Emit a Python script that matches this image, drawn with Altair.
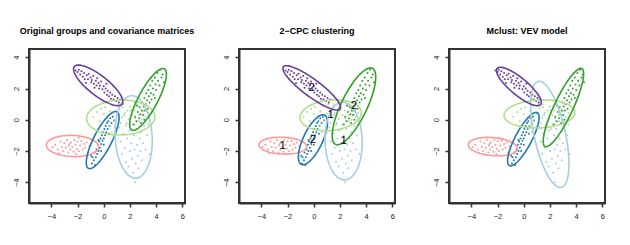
import altair as alt
import pandas as pd
import numpy as np

# ---------------- data ----------------
groups = ["pink", "darkblue", "lightblue", "lightgreen", "darkgreen", "purple"]
colors = ["#FB9A99", "#1F78B4", "#A6CEE3", "#B2DF8A", "#33A02C", "#6A3D9A"]

pink_pts = [(-3.7,-1.6),(-3.5,-1.9),(-3.3,-1.4),(-3.2,-1.75),(-3.1,-2.0),(-3.0,-1.5),(-2.9,-1.8),
            (-2.8,-1.3),(-2.7,-2.1),(-2.65,-1.65),(-2.55,-1.9),(-2.5,-1.45),(-2.4,-1.75),(-2.3,-2.05),
            (-2.25,-1.3),(-2.15,-1.6),(-2.05,-1.85),(-2.0,-1.4),(-1.9,-2.0),(-1.8,-1.65),(-1.7,-1.35),
            (-1.6,-1.9),(-1.5,-1.55),(-1.4,-1.8),(-1.3,-1.45),(-1.2,-2.1),(-1.1,-1.7),(-3.9,-1.75),
            (-2.6,-1.55),(-2.1,-2.2),(-1.9,-1.15),(-3.4,-2.15)]
darkblue_pts = [(-0.9,-2.8),(-0.85,-2.4),(-0.75,-2.6),(-0.7,-2.1),(-0.6,-2.4),(-0.55,-1.9),(-0.5,-2.2),
                (-0.45,-1.6),(-0.4,-2.0),(-0.35,-1.4),(-0.3,-1.8),(-0.25,-1.2),(-0.2,-1.55),(-0.15,-1.0),
                (-0.1,-1.35),(-0.05,-0.8),(0.0,-1.2),(0.05,-0.6),(0.1,-1.0),(0.15,-0.4),(0.2,-0.8),
                (0.25,-0.2),(0.3,-0.6),(0.35,-0.1),(0.45,-0.4),(0.5,0.1),(0.6,-0.2),(0.7,0.2),(0.8,-0.05),
                (-0.65,-2.9),(-0.95,-2.3),(0.0,-1.6),(-0.2,-2.0),(0.4,-0.9),(-0.4,-1.3)]
lightblue_pts = [(1.2,-0.5),(1.3,-1.4),(1.4,-2.2),(1.5,-0.9),(1.55,0.3),(1.6,-1.8),(1.7,-2.7),(1.75,-0.2),
                 (1.8,-1.2),(1.9,-3.0),(1.95,-0.7),(2.0,-2.0),(2.05,0.6),(2.1,-1.5),(2.15,-2.5),(2.2,-0.3),
                 (2.25,-3.4),(2.3,-1.0),(2.35,-1.9),(2.4,0.1),(2.45,-2.8),(2.5,-0.6),(2.55,-1.6),(2.6,-2.3),
                 (2.65,-3.1),(2.7,-0.1),(2.75,-1.2),(2.8,-2.0),(2.85,-0.8),(2.9,-2.6),(3.0,-1.5),(3.05,0.3),
                 (3.1,-0.4),(3.2,-1.9),(3.3,-1.0),(3.4,-0.3),(1.45,0.8),(2.4,-4.0),(2.5,1.0),(3.5,-2.2)]
lightgreen_pts = [(-0.8,0.2),(-0.5,0.5),(-0.3,-0.1),(0.0,0.35),(0.1,0.8),(0.3,0.1),(0.4,-0.4),(0.5,0.55),
                  (0.7,0.9),(0.8,0.0),(0.9,-0.5),(1.0,0.4),(1.2,0.7),(1.3,-0.2),(1.4,0.15),(1.5,1.0),
                  (1.6,0.45),(1.7,-0.35),(1.8,0.6),(1.9,0.05),(2.0,0.85),(2.1,-0.6),(2.2,0.3),(2.35,0.6),
                  (2.5,-0.1),(2.6,0.9),(2.7,0.3),(2.9,0.0),(3.0,0.55),(3.2,0.2),(3.4,0.45),(0.6,-0.8),
                  (1.1,1.0),(2.4,1.1),(-0.2,0.7)]
darkgreen_pts = [(2.3,-0.3),(2.4,0.2),(2.5,-0.1),(2.6,0.5),(2.7,0.1),(2.75,0.8),(2.8,0.35),(2.85,-0.2),
                 (2.9,0.6),(2.95,1.1),(3.0,0.3),(3.05,0.85),(3.1,1.4),(3.15,0.6),(3.2,1.0),(3.25,1.7),
                 (3.3,1.25),(3.35,0.7),(3.4,1.9),(3.45,1.5),(3.5,1.1),(3.55,2.2),(3.6,1.7),(3.65,1.3),
                 (3.7,2.5),(3.75,2.0),(3.8,1.6),(3.9,2.7),(3.95,2.25),(4.0,1.9),(4.1,3.0),(4.15,2.5),
                 (4.25,2.2),(4.3,3.2),(4.4,2.7),(4.5,2.9),(2.55,0.9),(3.1,0.0),(3.9,1.4),(4.6,2.4)]
purple_pts = [(-2.0,3.05),(-1.9,3.2),(-1.8,2.9),(-1.7,3.1),(-1.6,2.75),(-1.5,3.0),(-1.45,2.6),(-1.3,2.85),
              (-1.2,2.6),(-1.15,2.95),(-1.0,2.7),(-0.95,2.4),(-0.9,2.55),(-0.8,2.8),(-0.75,2.3),(-0.6,2.5),
              (-0.55,2.2),(-0.5,2.65),(-0.4,2.35),(-0.35,2.0),(-0.3,2.2),(-0.2,2.45),(-0.1,1.95),(0.0,2.15),
              (0.05,1.75),(0.15,2.0),(0.25,1.6),(0.3,1.85),(0.4,1.5),(0.5,1.75),(0.55,1.35),(0.65,1.6),
              (0.75,1.3),(0.85,1.5),(0.95,1.2),(1.05,1.4),(1.15,1.1),(1.25,1.3),(-1.35,2.35),(-0.7,2.05),
              (0.2,2.3),(-2.15,3.15)]
points_by_group = [pink_pts, darkblue_pts, lightblue_pts, lightgreen_pts, darkgreen_pts, purple_pts]

# ellipse parameters per group: centre x, centre y, half-extent x, half-extent y, correlation
ell_original = [(-2.38,-1.68,1.99,0.68,-0.08), (-0.08,-1.30,1.25,1.83,0.79), (2.28,-1.10,1.42,2.64,-0.10),
                (1.30,0.14,2.60,1.12,0.05), (3.38,1.30,1.40,1.98,0.81), (-0.42,2.20,1.88,1.30,-0.80)]
ell_cpc = [(-2.36,-1.66,1.82,0.54,-0.10), (-0.06,-1.28,1.11,1.60,0.69), (2.28,-1.36,1.42,2.49,-0.05),
           (1.29,0.29,2.34,0.99,0.15), (3.07,0.86,1.66,2.46,0.76), (-0.15,2.04,2.20,1.42,-0.88)]
ell_mclust = [(-2.36,-1.72,1.87,0.59,-0.20), (-0.03,-1.24,1.20,1.71,0.81), (1.99,-0.94,1.46,3.40,-0.55),
              (1.20,0.37,2.70,0.90,0.10), (3.03,0.78,1.54,2.51,0.86), (-0.37,2.13,1.71,1.23,-0.83)]
cpc_labels = ["1", "2", "1", "1", "2", "2"]

titles = ["Original groups and covariance matrices", "2\u2212CPC clustering", "Mclust: VEV model"]

x_ticks = [-4, -2, 0, 2, 4, 6]
y_ticks = [-4, -2, 0, 2, 4]
x_domain = [-5.7, 6.2]
y_domain = [-5.33, 4.53]

W, H = 156, 154

# ---------------- tables ----------------
pts_rows = []
for g, pts in zip(groups, points_by_group):
    for (x, y) in pts:
        pts_rows.append({"group": g, "x": x, "y": y})
points_df = pd.DataFrame(pts_rows)

tt = np.linspace(0, 2 * np.pi, 121)

def ellipse_df(params):
    rows = []
    for g, (cx, cy, sx, sy, r) in zip(groups, params):
        for i, t in enumerate(tt):
            rows.append({"group": g, "i": i,
                         "x": cx + sx * np.cos(t),
                         "y": cy + sy * (r * np.cos(t) + np.sqrt(1 - r * r) * np.sin(t))})
    return pd.DataFrame(rows)

# plot-box outline: the four corners of the scale domains, closed
box_df = pd.DataFrame({
    "group": ["box"] * 5,
    "i": [0, 1, 2, 3, 4],
    "x": [x_domain[0], x_domain[1], x_domain[1], x_domain[0], x_domain[0]],
    "y": [y_domain[0], y_domain[0], y_domain[1], y_domain[1], y_domain[0]],
})

FONT = "Liberation Sans"
BOX = "#333333"
color_enc = alt.Color("group:N", scale=alt.Scale(domain=groups + ["box"], range=colors + [BOX]),
                      legend=None)

def xenc():
    return alt.X("x:Q", scale=alt.Scale(domain=x_domain, nice=False, zero=False),
                 axis=alt.Axis(values=x_ticks, title=None, grid=False, domain=True, domainColor=BOX,
                               domainWidth=2, tickSize=4,
                               tickColor=BOX, tickWidth=1.5, labelFontSize=7.5, labelFont=FONT,
                               labelColor="#222", labelPadding=5, labelFlush=False))

def yenc():
    return alt.Y("y:Q", scale=alt.Scale(domain=y_domain, nice=False, zero=False),
                 axis=alt.Axis(values=y_ticks, title=None, grid=False, domain=True, domainColor=BOX,
                               domainWidth=2, tickSize=4,
                               tickColor=BOX, tickWidth=1.5, labelFontSize=7.5, labelFont=FONT,
                               labelColor="#222", labelAngle=270, labelAlign="center",
                               labelBaseline="bottom", labelPadding=5, labelFlush=False))

def panel(title, params, labels=None):
    pts = alt.Chart(points_df).mark_circle(size=4, opacity=1).encode(
        x=xenc(), y=yenc(), color=color_enc)
    lines = alt.Chart(ellipse_df(params)).mark_line(strokeWidth=1.6).encode(
        x=xenc(), y=yenc(), color=color_enc, detail="group:N", order="i:Q")
    box = alt.Chart(box_df).mark_line(strokeWidth=2, strokeCap="square").encode(
        x=xenc(), y=yenc(), color=color_enc, order="i:Q")
    layers = [pts, lines, box]
    if labels is not None:
        lab_df = pd.DataFrame({"x": [p[0] for p in params], "y": [p[1] for p in params], "label": labels})
        txt = alt.Chart(lab_df).mark_text(fontSize=11.5, font=FONT, color="black").encode(
            x=xenc(), y=yenc(), text="label:N")
        layers.append(txt)
    return alt.layer(*layers).properties(
        width=W, height=H,
        title=alt.TitleParams(title, fontSize=9, fontWeight="bold", font=FONT, anchor="middle",
                              offset=9, color="black"))

chart = alt.hconcat(
    panel(titles[0], ell_original),
    panel(titles[1], ell_cpc, cpc_labels),
    panel(titles[2], ell_mclust),
    spacing=54, bounds="flush",
).properties(
    padding={"left": 3, "top": 18, "right": 5, "bottom": 5}
).configure_view(stroke=BOX, strokeWidth=2)

chart.save("out.html", embed_options={"renderer": "svg", "actions": False})
